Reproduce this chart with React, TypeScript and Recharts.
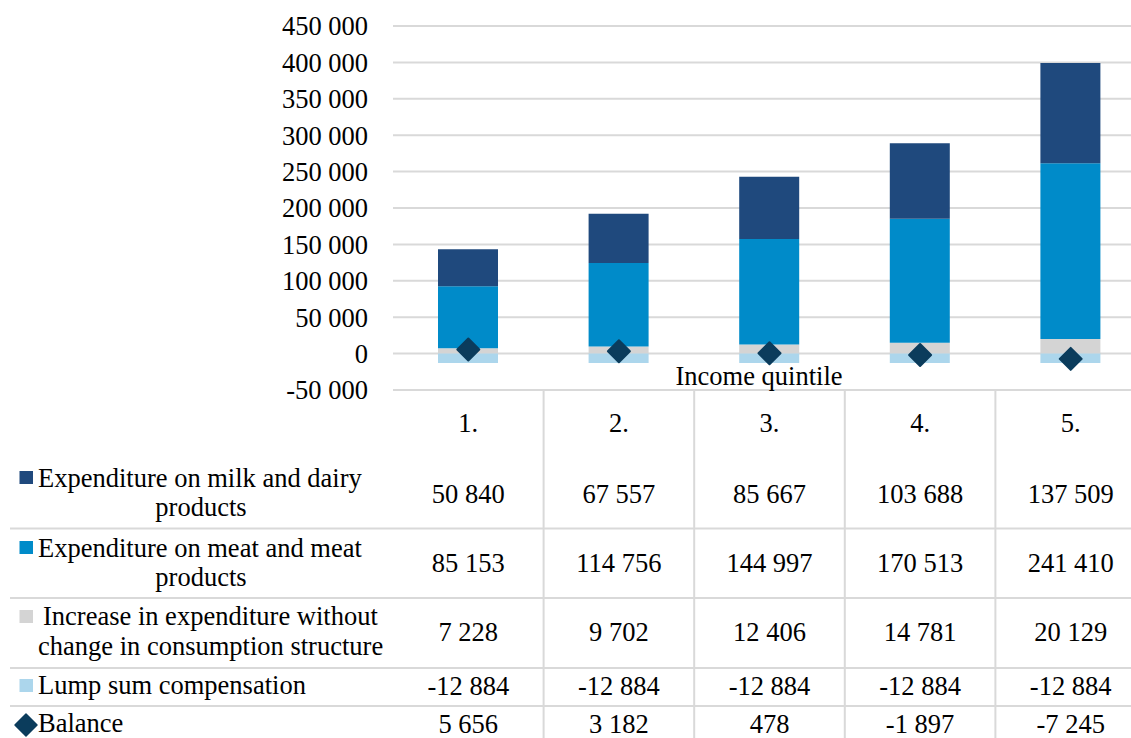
import React from 'react';
import { ComposedChart, Bar, Line, XAxis, YAxis, CartesianGrid } from 'recharts';

const quintiles = ['1.', '2.', '3.', '4.', '5.'];
const milkDairy = [50840, 67557, 85667, 103688, 137509];
const meat = [85153, 114756, 144997, 170513, 241410];
const increase = [7228, 9702, 12406, 14781, 20129];
const lumpSum = [-12884, -12884, -12884, -12884, -12884];
const balance = [5656, 3182, 478, -1897, -7245];
const yTicks = [-50000, 0, 50000, 100000, 150000, 200000, 250000, 300000, 350000, 400000, 450000];

const COLORS = {
  milk: '#1f497d',
  meat: '#008bc9',
  increase: '#d4d4d4',
  lump: '#acd6ec',
  balance: '#0b3c5c',
  grid: '#d9d9d9',
};

const FONT = "'Liberation Serif', Tinos, 'Times New Roman', 'DejaVu Serif', serif";
const FS = 26.5;

const CHART_W = 1146;
const CHART_H = 738;
const AXIS_W = 393;
const PLOT_TOP = 26;
const TABLE_H = 348;
const BAND = (CHART_W - AXIS_W) / quintiles.length;

const data = quintiles.map((q, i) => ({
  q,
  milk: milkDairy[i],
  meat: meat[i],
  increase: increase[i],
  lump: lumpSum[i],
  balance: balance[i],
}));

const fmt = (v: number) => {
  const s = Math.abs(v).toString().replace(/\B(?=(\d{3})+(?!\d))/g, ' ');
  return v < 0 ? '-' + s : s;
};

const textStyle = { fontFamily: FONT, fontSize: FS };

// value rows of the data table, baseline offsets below the axis line
const rows = [
  { values: milkDairy, dy: 113 },
  { values: meat, dy: 182 },
  { values: increase, dy: 251 },
  { values: lumpSum, dy: 305 },
  { values: balance, dy: 343 },
];

const TableColumn = (props: any) => {
  const { x, y, payload } = props;
  const i = payload.index;
  return (
    <g>
      <text x={x} y={y + 42} textAnchor="middle" fill="#000" style={textStyle}>
        {payload.value}
      </text>
      {rows.map((r, k) => (
        <text key={k} x={x} y={y + r.dy} textAnchor="middle" fill="#000" style={textStyle}>
          {fmt(r.values[i])}
        </text>
      ))}
      <line x1={x + BAND / 2} x2={x + BAND / 2} y1={y} y2={y + TABLE_H + 10} stroke={COLORS.grid} strokeWidth={2} />
    </g>
  );
};

const Diamond = (props: any) => {
  const { cx, cy, index } = props;
  if (cx == null || cy == null) return <g key={index} />;
  const r = 11;
  return (
    <path
      key={index}
      d={`M${cx},${cy - r} L${cx + r},${cy} L${cx},${cy + r} L${cx - r},${cy} Z`}
      fill={COLORS.balance}
      stroke={COLORS.balance}
      strokeWidth={2}
      strokeLinejoin="round"
    />
  );
};

const Label = (p: { x: number; y: number; mid?: boolean; children: React.ReactNode }) => (
  <text x={p.x} y={p.y} textAnchor={p.mid ? 'middle' : 'start'} fill="#000" style={textStyle}>
    {p.children}
  </text>
);

export default function App() {
  return (
    <div
      style={{
        position: 'fixed',
        left: 0,
        top: 0,
        width: 1131,
        height: 738,
        overflow: 'hidden',
        background: '#fff',
        fontFamily: FONT,
      }}
    >
      <ComposedChart
        width={CHART_W}
        height={CHART_H}
        data={data}
        stackOffset="sign"
        style={{ fontFamily: FONT }}
        margin={{ top: PLOT_TOP, right: 0, bottom: 0, left: 0 }}
      >
        <CartesianGrid vertical={false} stroke={COLORS.grid} strokeWidth={2} />
        <XAxis
          dataKey="q"
          height={TABLE_H}
          axisLine={false}
          tickLine={false}
          tickSize={0}
          tickMargin={0}
          interval={0}
          tick={<TableColumn />}
        />
        <YAxis
          width={AXIS_W}
          domain={[-50000, 450000]}
          ticks={yTicks}
          interval={0}
          axisLine={false}
          tickLine={false}
          tickSize={0}
          tickMargin={25}
          tickFormatter={fmt}
          tick={{ fill: '#000', style: textStyle }}
        />
        <Bar dataKey="increase" stackId="s" fill={COLORS.increase} barSize={60} isAnimationActive={false} />
        <Bar dataKey="meat" stackId="s" fill={COLORS.meat} barSize={60} isAnimationActive={false} />
        <Bar dataKey="milk" stackId="s" fill={COLORS.milk} barSize={60} isAnimationActive={false} />
        <Bar dataKey="lump" stackId="s" fill={COLORS.lump} barSize={60} isAnimationActive={false} />
        <Line
          dataKey="balance"
          stroke="none"
          dot={Diamond}
          activeDot={false}
          isAnimationActive={false}
        />
      </ComposedChart>

      <svg
        width={1131}
        height={738}
        style={{ position: 'absolute', left: 0, top: 0, pointerEvents: 'none' }}
      >
        <Label x={759} y={385} mid>Income quintile</Label>

        {[528.5, 598, 668, 706].map((y) => (
          <line key={y} x1={10} x2={1131} y1={y} y2={y} stroke={COLORS.grid} strokeWidth={2} />
        ))}

        <rect x={19.5} y={471} width={13.5} height={13} fill={COLORS.milk} />
        <Label x={38} y={487}>Expenditure on milk and dairy</Label>
        <Label x={201} y={516} mid>products</Label>

        <rect x={19.5} y={541} width={13.5} height={13} fill={COLORS.meat} />
        <Label x={38} y={557}>Expenditure on meat and meat</Label>
        <Label x={201} y={586} mid>products</Label>

        <rect x={19.5} y={610} width={13.5} height={13} fill={COLORS.increase} />
        <Label x={43} y={625}>Increase in expenditure without</Label>
        <Label x={38} y={655}>change in consumption structure</Label>

        <rect x={19.5} y={679} width={13.5} height={13} fill={COLORS.lump} />
        <Label x={38} y={694}>Lump sum compensation</Label>

        <path
          d="M26,714 L37,725 L26,736 L15,725 Z"
          fill={COLORS.balance}
          stroke={COLORS.balance}
          strokeWidth={1.5}
          strokeLinejoin="round"
        />
        <Label x={38} y={732}>Balance</Label>
      </svg>
    </div>
  );
}
